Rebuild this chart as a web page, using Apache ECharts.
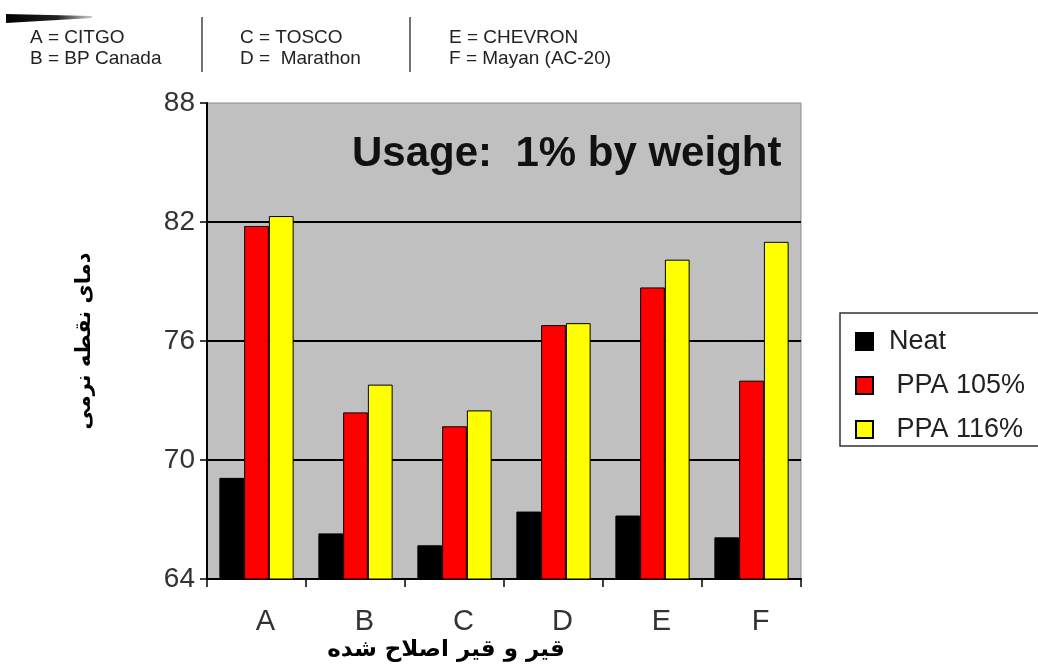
<!DOCTYPE html>
<html>
<head>
<meta charset="utf-8">
<script src="https://cdn.jsdelivr.net/npm/echarts@6/dist/echarts.min.js"></script>
<style>
  html, body { margin: 0; padding: 0; background: #fff; }
  #chart { width: 1038px; height: 665px; }
</style>
</head>
<body>
<div id="chart"></div>
<script>
// Binders, softening point temperatures
const categories = ['A', 'B', 'C', 'D', 'E', 'F'];
const neat = [69.1, 66.3, 65.7, 67.4, 67.2, 66.1];
const ppa105 = [81.8, 72.4, 71.7, 76.8, 78.7, 74.0];
const ppa116 = [82.3, 73.8, 72.5, 76.9, 80.1, 81.0];
const seriesNames = ['Neat', 'PPA 105%', 'PPA 116%'];
const binderKey = [
  ['A = CITGO', 'B = BP Canada'],
  ['C = TOSCO', 'D =  Marathon'],
  ['E = CHEVRON', 'F = Mayan (AC-20)']
];
const yTicks = { min: 64, max: 88, step: 6 };
const yTitle = 'دمای نقطه نرمی';
const xTitle = 'قیر و قیر اصلاح شده';
const note = 'Usage:  1% by weight';

const latin = '"Liberation Sans", Arial, sans-serif';
const persian = '"DejaVu Sans", sans-serif';

const chart = echarts.init(document.getElementById('chart'), null, { renderer: 'canvas' });

function bar(name, data, color) {
  return {
    name: name,
    type: 'bar',
    data: data,
    barGap: '0%',
    barCategoryGap: '25%',
    itemStyle: { color: color, borderColor: '#000', borderWidth: 1 }
  };
}

// key of binder codes across the top
const keyX = [30, 240, 449];
const keyGraphics = [];
binderKey.forEach((pair, i) => {
  pair.forEach((txt, j) => {
    keyGraphics.push({
      type: 'text', left: keyX[i], top: 28 + j * 21,
      style: { text: txt, font: '19px ' + latin, fill: '#222' }
    });
  });
});

chart.setOption({
  backgroundColor: '#fff',
  animation: false,
  grid: {
    left: 207, right: 237, top: 103, bottom: 86,
    show: true, backgroundColor: '#c0c0c0', borderColor: '#8a8a8a', borderWidth: 1
  },
  legend: {
    orient: 'vertical',
    left: 850, top: 323,
    itemWidth: 17, itemHeight: 17, itemGap: 17,
    icon: 'rect',
    z: 10,
    data: seriesNames,
    formatter: n => (n === 'Neat' ? n : ' ' + n),
    textStyle: { fontSize: 27, fontFamily: latin, color: '#222', padding: [0, 0, 0, 11] }
  },
  xAxis: {
    type: 'category',
    data: categories,
    axisLine: { lineStyle: { color: '#000', width: 2 } },
    axisTick: { show: true, length: 8, lineStyle: { color: '#000', width: 1.5 } },
    axisLabel: { fontSize: 29, fontFamily: latin, color: '#333', margin: 28, padding: [0, 0, 0, 18] }
  },
  yAxis: {
    type: 'value',
    min: yTicks.min, max: yTicks.max, interval: yTicks.step,
    name: yTitle,
    nameLocation: 'middle',
    nameRotate: 90,
    nameGap: 112,
    nameTextStyle: { fontSize: 21, fontWeight: 'bold', fontFamily: persian, color: '#000', padding: [0, 0, 0, 0] },
    axisLine: { show: true, lineStyle: { color: '#000', width: 2 } },
    axisTick: { show: true, length: 7, lineStyle: { color: '#000', width: 1.5 } },
    axisLabel: { fontSize: 28, fontFamily: latin, color: '#333', margin: 12 },
    splitLine: { show: true, showMaxLine: false, lineStyle: { color: '#000', width: 2 } }
  },
  series: [
    bar(seriesNames[0], neat, '#000000'),
    bar(seriesNames[1], ppa105, '#ff0000'),
    bar(seriesNames[2], ppa116, '#ffff00')
  ],
  graphic: [
    // ink streak in the top corner
    {
      type: 'polygon', z: 5,
      shape: { points: [[6, 14], [92, 16], [92, 18], [6, 23]] },
      style: {
        fill: new echarts.graphic.LinearGradient(0, 0, 1, 0, [
          { offset: 0, color: '#000' }, { offset: 0.6, color: '#222' }, { offset: 1, color: '#ccc' }
        ])
      }
    },
    { type: 'line', shape: { x1: 202, y1: 17, x2: 202, y2: 72 }, style: { stroke: '#444', lineWidth: 1.5 } },
    { type: 'line', shape: { x1: 410, y1: 17, x2: 410, y2: 72 }, style: { stroke: '#444', lineWidth: 1.5 } },
    ...keyGraphics,
    // note inside the plot
    {
      type: 'text', left: 352, top: 133, z: 10,
      style: { text: note, font: 'bold 42px ' + latin, fill: '#111' }
    },
    // legend frame
    {
      type: 'rect', z: 1,
      shape: { x: 840, y: 313, width: 210, height: 133 },
      style: { fill: '#fff', stroke: '#333', lineWidth: 1.5 }
    },
    // category axis title
    {
      type: 'text', z: 10,
      style: {
        text: xTitle, x: 446, y: 650, align: 'center', verticalAlign: 'middle',
        font: 'bold 23px ' + persian, fill: '#000'
      }
    }
  ]
});
</script>
</body>
</html>
